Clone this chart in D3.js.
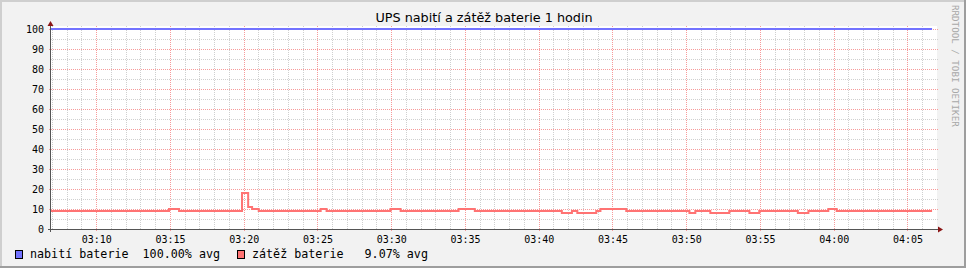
<!DOCTYPE html>
<html>
<head>
<meta charset="utf-8">
<script src="https://cdn.jsdelivr.net/npm/d3@7"></script>
<style>
  html, body { margin: 0; padding: 0; background: #f2f2f2; }
  svg { display: block; }
  .mono { font-family: 'DejaVu Sans Mono', monospace; }
</style>
</head>
<body>
<svg id="chart" width="966" height="268"></svg>
<script>
// time window of the graph (1 hour)
const rangeStart = '03:06:56';
const rangeEnd = '04:06:56';

// battery charge (nabití baterie), change points
const chargeTimes = ['03:06:56', '04:06:40'];
const chargeValues = [100, 100];

// battery load (zátěž baterie), change points of the step line
const loadTimes = [
  '03:06:56', '03:14:56', '03:15:37', '03:19:53', '03:20:18', '03:20:34', '03:21:01',
  '03:25:13', '03:25:37', '03:29:57', '03:30:38', '03:34:34', '03:35:40',
  '03:41:34', '03:42:15', '03:42:37', '03:43:54', '03:44:11', '03:45:56',
  '03:50:13', '03:50:37', '03:51:38', '03:52:55', '03:54:17', '03:54:57',
  '03:57:34', '03:58:17', '03:59:38', '04:00:12', '04:06:40'
];
const loadValues = [
  9, 10, 9, 18, 11, 10, 9,
  10, 9, 10, 9, 10, 9,
  8, 9, 8, 9, 10, 9,
  8, 9, 8, 9, 8, 9,
  8, 9, 10, 9, 9
];

const yTicks = [0, 10, 20, 30, 40, 50, 60, 70, 80, 90, 100];
const legendItems = [
  { label: 'nabití baterie  100.00% avg', color: '#7373ff' },
  { label: 'zátěž baterie   9.07% avg', color: '#ff7373' }
];
const title = 'UPS nabití a zátěž baterie 1 hodin';

const W = 966, H = 268;
const plotLeft = 51, plotRight = 936, plotTop = 29, plotBottom = 229;

const toDate = s => {
  const [h, m, sec] = s.split(':').map(Number);
  return new Date(2020, 0, 1, h, m, sec);
};

const svg = d3.select('#chart');

const x = d3.scaleTime()
  .domain([toDate(rangeStart), toDate(rangeEnd)])
  .range([plotLeft, plotRight]);
const y = d3.scaleLinear()
  .domain([0, 100])
  .range([plotBottom, plotTop]);

// background + shaded border
svg.append('rect').attr('width', W).attr('height', H).attr('fill', '#f2f2f2');
svg.append('path').attr('d', `M0,${H} V0 H${W}`)
  .attr('fill', 'none').attr('stroke', '#cfcfcf').attr('stroke-width', 4);
svg.append('path').attr('d', `M0,${H} H${W} V0`)
  .attr('fill', 'none').attr('stroke', '#9e9e9e').attr('stroke-width', 4);

// canvas
svg.append('rect')
  .attr('x', plotLeft).attr('y', plotTop - 3)
  .attr('width', plotRight - plotLeft + 1).attr('height', plotBottom - plotTop + 3)
  .attr('fill', '#ffffff');

const px = v => Math.round(v) + 0.5;

// grid
const grid = svg.append('g').attr('class', 'grid');
const minorX = x.ticks(d3.timeMinute.every(1));
const majorX = x.ticks(d3.timeMinute.every(5));
const majorSet = new Set(majorX.map(d => +d));

grid.selectAll('line.vminor')
  .data(minorX.filter(d => !majorSet.has(+d)))
  .enter().append('line')
  .attr('x1', d => px(x(d))).attr('x2', d => px(x(d)))
  .attr('y1', plotTop - 3).attr('y2', plotBottom)
  .attr('stroke', '#cfcfcf').attr('stroke-dasharray', '1,1');

const minorY = d3.range(0, 101, 5).filter(v => v % 10 !== 0);
grid.selectAll('line.hminor')
  .data(minorY)
  .enter().append('line')
  .attr('x1', plotLeft).attr('x2', plotRight + 2)
  .attr('y1', d => px(y(d))).attr('y2', d => px(y(d)))
  .attr('stroke', '#cfcfcf').attr('stroke-dasharray', '1,1');

grid.selectAll('line.vmajor')
  .data(majorX)
  .enter().append('line')
  .attr('x1', d => px(x(d))).attr('x2', d => px(x(d)))
  .attr('y1', plotTop - 3).attr('y2', plotBottom + 2)
  .attr('stroke', '#f79a9a').attr('stroke-dasharray', '1,1');

grid.selectAll('line.hmajor')
  .data(yTicks.filter(v => v > 0))
  .enter().append('line')
  .attr('x1', plotLeft - 2).attr('x2', plotRight + 2)
  .attr('y1', d => px(y(d))).attr('y2', d => px(y(d)))
  .attr('stroke', '#f79a9a').attr('stroke-dasharray', '1,1');

// data lines
const line = d3.line()
  .x(d => x(d.t))
  .y(d => y(d.v))
  .curve(d3.curveStepAfter);

const chargeData = chargeTimes.map((t, i) => ({ t: toDate(t), v: chargeValues[i] }));
const loadData = loadTimes.map((t, i) => ({ t: toDate(t), v: loadValues[i] }));

svg.append('path').datum(chargeData)
  .attr('d', line)
  .attr('fill', 'none')
  .attr('stroke', legendItems[0].color)
  .attr('stroke-width', 2);

svg.append('path').datum(loadData)
  .attr('d', line)
  .attr('fill', 'none')
  .attr('stroke', legendItems[1].color)
  .attr('stroke-width', 2);

// axes lines + arrows
svg.append('line')
  .attr('x1', 50.5).attr('x2', 50.5)
  .attr('y1', plotBottom + 3).attr('y2', plotTop - 4)
  .attr('stroke', '#555555');
svg.append('line')
  .attr('x1', plotLeft - 3).attr('x2', plotRight + 3)
  .attr('y1', plotBottom + 0.5).attr('y2', plotBottom + 0.5)
  .attr('stroke', '#555555');
svg.append('path')
  .attr('d', `M47.5,${plotTop - 3} L50.5,${plotTop - 8} L53.5,${plotTop - 3} Z`)
  .attr('fill', '#8b1515');
svg.append('path')
  .attr('d', `M${plotRight + 2},${plotBottom - 2.5} L${plotRight + 7},${plotBottom + 0.5} L${plotRight + 2},${plotBottom + 3.5} Z`)
  .attr('fill', '#8b1515');

// axis labels
const xAxis = d3.axisBottom(x)
  .ticks(d3.timeMinute.every(5))
  .tickFormat(d3.timeFormat('%H:%M'))
  .tickSize(0)
  .tickPadding(7);
const gx = svg.append('g')
  .attr('transform', `translate(0,${plotBottom})`)
  .call(xAxis);
gx.select('.domain').remove();

const yAxis = d3.axisLeft(y)
  .tickValues(yTicks)
  .tickSize(0)
  .tickPadding(6);
const gy = svg.append('g')
  .attr('transform', `translate(${plotLeft - 1},0)`)
  .call(yAxis);
gy.select('.domain').remove();

[gx, gy].forEach(g => {
  g.attr('font-family', null).attr('font-size', null);
  g.selectAll('text')
    .attr('class', 'mono')
    .attr('font-size', 10)
    .attr('fill', '#000');
});

// title
svg.append('text')
  .attr('x', 484).attr('y', 22)
  .attr('text-anchor', 'middle')
  .attr('font-family', 'DejaVu Sans, sans-serif')
  .attr('font-size', 12.8)
  .attr('fill', '#000')
  .text(title);

// watermark
svg.append('text')
  .attr('class', 'mono')
  .attr('transform', 'translate(952,5) rotate(90)')
  .attr('font-size', 9.2)
  .attr('fill', '#a8a8a8')
  .style('white-space', 'pre')
  .text('RRDTOOL / TOBI OETIKER');

// legend
const legendX = [15, 237];
const legend = svg.append('g').attr('class', 'legend');
legendItems.forEach((item, i) => {
  legend.append('rect')
    .attr('x', legendX[i] + 0.5).attr('y', 250.5)
    .attr('width', 7).attr('height', 8)
    .attr('fill', item.color)
    .attr('stroke', '#000');
  legend.append('text')
    .attr('class', 'mono')
    .attr('x', legendX[i] + 15).attr('y', 258)
    .attr('font-size', 11.7)
    .attr('fill', '#000')
    .style('white-space', 'pre')
    .text(item.label);
});
</script>
</body>
</html>
